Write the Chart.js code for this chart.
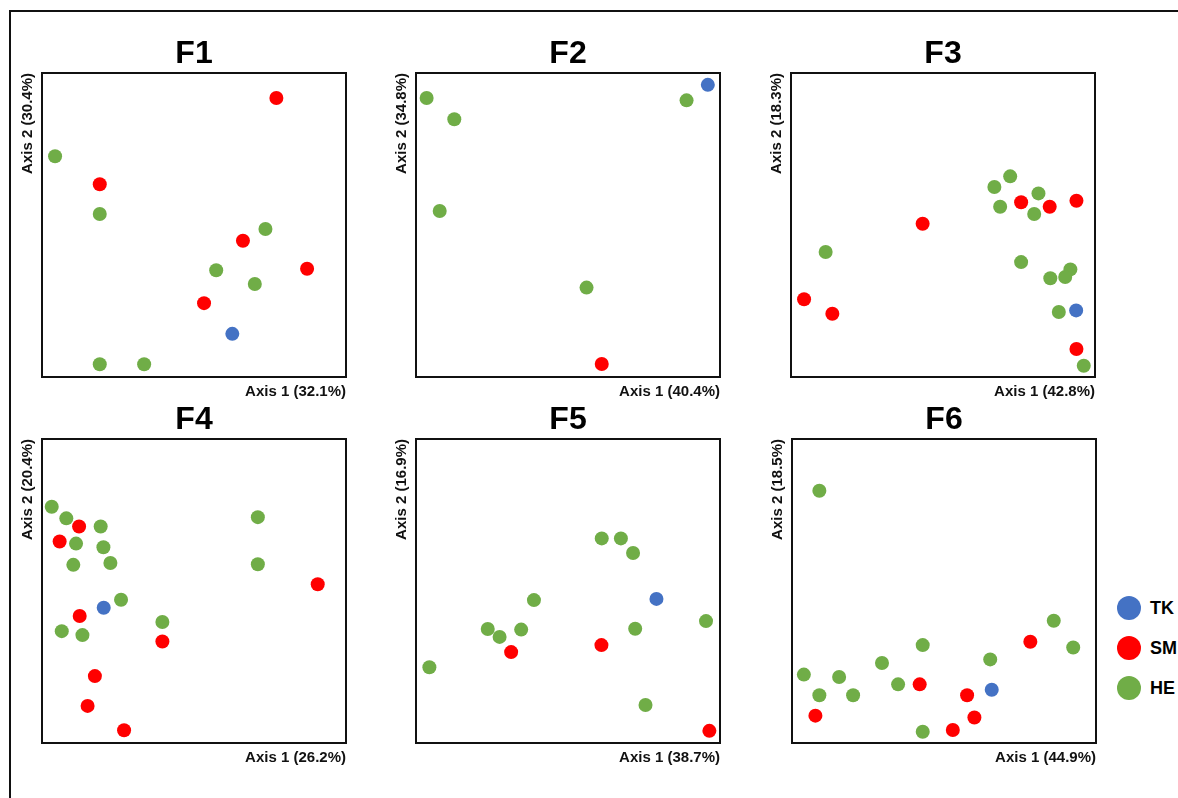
<!DOCTYPE html>
<html>
<head>
<meta charset="utf-8">
<script src="https://cdn.jsdelivr.net/npm/chart.js@4"></script>
<style>
  html, body { margin: 0; padding: 0; background: #fff; width: 1178px; height: 798px; overflow: hidden; }
  #frame { position: absolute; left: 9px; top: 10px; width: 1300px; height: 900px;
           border-left: 2px solid #111; border-top: 2px solid #111; }
  canvas { position: absolute; }
  #legend { position: absolute; left: 1117px; top: 596px; font-family: 'Liberation Sans', Arial, sans-serif; }
  .item { display: flex; align-items: center; height: 24px; margin-bottom: 16px; }
  .dot { width: 24px; height: 24px; border-radius: 50%; margin-right: 9px; }
  .lbl { font-weight: bold; font-size: 18px; color: #000; }
</style>
</head>
<body>
<div id="frame"></div>
<div id="legend"></div>
<script>
// ---- data (normalised ordination coordinates, 0..100) ----
const groups = ['TK', 'SM', 'HE'];
const groupColors = ['#4472C4', '#FF0000', '#70AD47'];
const panelTitles = ['F1', 'F2', 'F3', 'F4', 'F5', 'F6'];
const axis1Labels = ['Axis 1 (32.1%)', 'Axis 1 (40.4%)', 'Axis 1 (42.8%)', 'Axis 1 (26.2%)', 'Axis 1 (38.7%)', 'Axis 1 (44.9%)'];
const axis2Labels = ['Axis 2 (30.4%)', 'Axis 2 (34.8%)', 'Axis 2 (18.3%)', 'Axis 2 (20.4%)', 'Axis 2 (16.9%)', 'Axis 2 (18.5%)'];

const f1TK = [[62.6,14.2]];
const f1SM = [[77.1,91.8],[19.0,63.4],[66.1,44.8],[87.2,35.6],[53.3,24.3]];
const f1HE = [[4.3,72.6],[19.0,53.6],[73.5,48.7],[57.3,35.1],[70.0,30.6],[19.0,4.2],[33.6,4.2]];

const f2TK = [[96.0,96.1]];
const f2SM = [[61.1,4.3]];
const f2HE = [[89.0,91.0],[3.5,91.8],[12.6,84.8],[7.8,54.6],[56.1,29.4]];

const f3TK = [[93.8,21.9]];
const f3SM = [[75.7,57.5],[85.1,56.0],[93.9,58.0],[43.3,50.4],[4.3,25.6],[13.6,20.8],[93.9,9.2]];
const f3HE = [[72.1,66.0],[66.9,62.5],[81.4,60.4],[68.8,56.0],[80.0,53.6],[11.4,41.1],[75.7,37.8],[91.9,35.4],[85.3,32.5],[90.2,32.9],[88.1,21.4],[96.3,3.7]];

const f4TK = [[20.3,44.5]];
const f4SM = [[12.2,71.2],[5.8,66.3],[90.7,52.2],[12.4,41.8],[39.6,33.4],[17.4,22.0],[15.0,12.2],[27.0,4.2]];
const f4HE = [[3.2,77.7],[8.0,73.9],[19.3,71.2],[11.2,65.6],[20.2,64.4],[10.3,58.6],[22.5,59.2],[71.0,74.3],[71.0,58.8],[26.0,47.1],[6.5,36.8],[13.3,35.5],[39.6,39.8]];

const f5TK = [[79.1,47.4]];
const f5SM = [[31.3,29.9],[61.0,32.2],[96.5,4.0]];
const f5HE = [[61.1,67.3],[67.4,67.3],[71.4,62.5],[38.8,47.0],[95.4,40.1],[23.6,37.5],[27.5,34.9],[34.6,37.3],[72.1,37.6],[4.4,24.9],[75.5,12.5]];

const f6TK = [[65.7,17.5]];
const f6SM = [[78.4,33.3],[42.0,19.3],[57.6,15.7],[7.7,9.0],[60.0,8.4],[52.9,4.3]];
const f6HE = [[9.0,83.0],[86.1,40.2],[92.5,31.4],[43.0,32.2],[65.2,27.5],[29.6,26.3],[3.9,22.5],[15.5,21.7],[34.9,19.3],[9.0,15.7],[20.1,15.7],[43.0,3.7]];

const panelData = [
  [f1TK, f1SM, f1HE], [f2TK, f2SM, f2HE], [f3TK, f3SM, f3HE],
  [f4TK, f4SM, f4HE], [f5TK, f5SM, f5HE], [f6TK, f6SM, f6HE]
];

// ---- layout (plot box top-left corners) ----
const boxPos = [[42,73],[416,73],[791,73],[42,439],[416,439],[792,439]];
const BOX = 304;
const FONT = "'Liberation Sans', Arial, sans-serif";

const frameAxis = (pos, size) => ({
  type: 'linear', position: pos, min: 0, max: 100,
  ticks: { display: false }, grid: { display: false, drawTicks: false },
  border: { display: true, color: '#111', width: 2 },
  title: { display: false },
  afterFit: (s) => { if (s.isHorizontal()) { s.height = size; } else { s.width = size; } }
});

const charts = [];
panelData.forEach((sets, i) => {
  const cv = document.createElement('canvas');
  const W = BOX + 37, H = BOX + 88;
  cv.width = W; cv.height = H;
  cv.style.left = (boxPos[i][0] - 30) + 'px';
  cv.style.top = (boxPos[i][1] - 60) + 'px';
  document.body.appendChild(cv);

  const xAxis = frameAxis('bottom', 26);
  xAxis.title = { display: true, text: axis1Labels[i], align: 'end', color: '#111',
                  font: { family: FONT, size: 15, weight: 'bold' }, padding: { top: 6, bottom: 2 } };
  const yAxis = frameAxis('left', 27);
  yAxis.title = { display: true, text: axis2Labels[i], align: 'end', color: '#111',
                  font: { family: FONT, size: 15, weight: 'bold' }, padding: { top: 4, bottom: 5 } };

  charts.push(new Chart(cv, {
    type: 'scatter',
    data: {
      datasets: groups.map((g, k) => ({
        label: g,
        data: sets[k].map(p => ({ x: p[0], y: p[1] })),
        backgroundColor: groupColors[k],
        borderWidth: 0,
        pointRadius: 7,
        pointHoverRadius: 7
      }))
    },
    options: {
      responsive: false,
      animation: false,
      events: [],
      layout: { padding: { top: 21.6, left: 3, right: 4, bottom: 2 } },
      plugins: {
        legend: { display: false },
        tooltip: { enabled: false },
        title: { display: true, text: panelTitles[i], fullSize: false, color: '#000',
                 font: { family: FONT, size: 32, weight: 'bold' }, padding: { top: 0, bottom: 0 } }
      },
      scales: { x: xAxis, y: yAxis, x2: frameAxis('top', 0), y2: frameAxis('right', 0) }
    }
  }));
});

// HTML legend built from the library's legend items
const last = charts[charts.length - 1];
const items = Chart.defaults.plugins.legend.labels.generateLabels(last);
const legendEl = document.getElementById('legend');
items.forEach(it => {
  const row = document.createElement('div'); row.className = 'item';
  const dot = document.createElement('div'); dot.className = 'dot'; dot.style.background = it.fillStyle;
  const lbl = document.createElement('span'); lbl.className = 'lbl'; lbl.textContent = it.text;
  row.appendChild(dot); row.appendChild(lbl); legendEl.appendChild(row);
});
</script>
</body>
</html>
